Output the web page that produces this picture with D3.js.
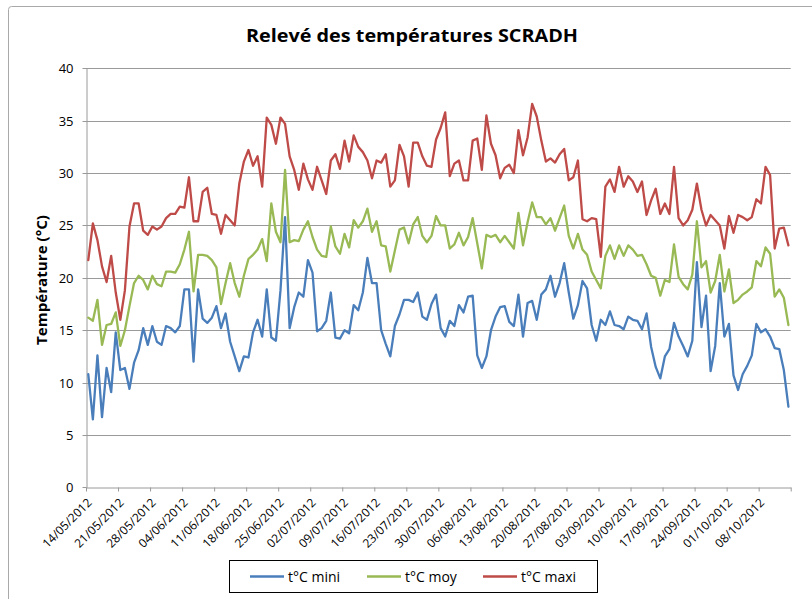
<!DOCTYPE html>
<html>
<head>
<meta charset="utf-8">
<script src="https://cdn.jsdelivr.net/npm/d3@7"></script>
<style>
  html, body { margin: 0; padding: 0; background: #fff; }
  svg { display: block; }
  text { font-family: "Open Sans", "Liberation Sans", sans-serif; fill: #000; }
</style>
</head>
<body>
<div id="chart"></div>
<script>
// ---- data ----
const firstDay = "2012-05-14";
const lastDay = "2012-10-14";
const seriesNames = ["t°C mini", "t°C moy", "t°C maxi"];
const seriesColors = ["#4a7ebb", "#98b954", "#be4b48"];
const tmin = [10.8,6.5,12.6,6.7,11.4,9.1,14.8,11.2,11.4,9.4,11.9,13.1,15.2,13.6,15.4,13.9,13.6,15.4,15.2,14.8,
  15.4,18.9,18.9,12.0,18.9,16.1,15.7,16.2,17.3,15.2,16.6,13.9,12.5,11.1,12.5,12.4,14.8,16.0,14.4,18.9,
  14.3,14.0,18.8,25.8,15.2,17.2,18.6,18.2,21.7,20.5,14.9,15.2,15.9,18.6,14.3,14.2,15.0,14.7,17.4,16.9,
  18.6,21.9,19.5,19.5,15.0,13.7,12.5,15.4,16.5,17.9,17.9,17.7,18.6,16.3,16.0,17.5,18.4,15.2,14.4,15.9,
  15.4,17.4,16.7,18.2,18.3,12.6,11.4,12.5,15.0,16.3,17.2,17.3,15.8,15.4,18.4,14.4,17.6,17.8,16.0,18.4,
  18.9,20.2,18.2,19.5,21.4,18.6,16.1,17.4,19.7,19.0,15.5,14.0,16.0,15.5,16.8,15.5,15.4,15.1,16.3,16.0,
  15.9,15.1,16.6,13.4,11.5,10.4,12.5,13.2,15.7,14.4,13.5,12.5,14.0,21.5,15.3,18.3,11.1,13.5,19.5,14.4,
  15.6,10.7,9.3,10.8,11.6,12.6,15.6,14.8,15.1,14.4,13.3,13.2,11.2,7.7];
const tmoy = [16.2,15.9,17.9,13.6,15.5,15.6,16.7,13.5,15.0,17.3,19.5,20.2,19.8,18.9,20.2,19.4,19.2,20.6,20.6,20.5,
  21.3,22.7,24.4,18.7,22.2,22.2,22.1,21.7,21.0,17.5,19.5,21.4,19.5,18.2,20.2,21.8,22.2,22.7,23.7,21.6,
  27.1,24.4,23.4,30.3,23.4,23.6,23.5,24.6,25.4,23.9,22.7,22.1,22.0,24.9,23.0,22.3,24.2,22.9,25.5,24.8,
  25.4,26.6,24.4,25.4,23.1,23.0,20.6,22.6,24.6,24.8,23.3,25.1,25.8,24.0,23.4,24.0,25.9,25.0,25.0,22.8,
  23.2,24.3,23.1,23.9,25.7,23.3,20.9,24.1,23.9,24.1,23.4,24.0,23.4,22.8,26.2,23.1,25.3,27.2,25.8,25.8,
  25.1,25.7,24.5,25.7,26.9,24.0,22.8,24.2,22.7,22.2,20.6,19.8,19.0,22.1,23.1,21.8,23.1,22.1,23.1,22.7,
  22.1,22.2,21.3,20.2,20.0,18.3,19.8,19.6,23.2,20.1,19.4,18.9,20.3,25.4,21.0,21.6,18.6,19.7,22.2,18.7,
  20.8,17.6,17.9,18.4,18.7,19.1,21.6,21.1,22.9,22.3,18.2,18.9,18.1,15.5];
const tmax = [21.7,25.2,23.6,21.1,19.6,22.1,18.6,16.0,18.8,24.9,27.1,27.1,24.5,24.1,24.9,24.6,24.9,25.7,26.1,26.1,
  26.8,26.7,29.6,25.4,25.4,28.2,28.6,26.1,26.0,24.2,26.0,25.5,25.0,29.0,31.1,32.2,30.7,31.6,28.7,35.3,
  34.6,32.8,35.3,34.7,31.6,30.3,28.4,30.9,29.4,28.4,30.6,29.3,28.0,31.2,31.8,30.4,33.1,31.1,33.6,32.5,
  32.0,31.2,29.5,31.2,31.0,31.8,28.7,29.3,32.7,31.6,28.7,32.9,32.9,31.6,30.7,30.6,33.2,34.3,35.8,29.7,
  30.9,31.2,29.3,29.3,33.1,33.3,30.3,35.5,32.8,31.7,29.5,30.5,30.8,30.0,34.1,31.7,33.4,36.6,35.4,33.1,
  31.1,31.4,31.0,31.8,32.3,29.3,29.6,31.2,25.6,25.4,25.7,25.6,22.0,28.7,29.4,28.2,30.6,28.7,29.7,29.2,
  28.2,29.2,26.0,27.4,28.5,26.1,27.1,26.1,30.6,25.7,25.0,25.5,26.5,29.0,26.5,25.0,26.0,25.5,25.0,22.8,
  25.9,24.3,26.0,25.8,25.5,25.8,27.5,27.1,30.6,29.8,22.8,24.7,24.8,23.1];
const xTickLabels = ["14/05/2012","21/05/2012","28/05/2012","04/06/2012","11/06/2012","18/06/2012",
  "25/06/2012","02/07/2012","09/07/2012","16/07/2012","23/07/2012","30/07/2012","06/08/2012",
  "13/08/2012","20/08/2012","27/08/2012","03/09/2012","10/09/2012","17/09/2012","24/09/2012",
  "01/10/2012","08/10/2012"];
const yTicks = [0,5,10,15,20,25,30,35,40];
const titleText = "Relevé des températures SCRADH";
const yTitle = "Température (°C)";

// ---- layout ----
const W = 812, H = 599;
const M = {left: 86, right: 790.7, top: 68.3, bottom: 487.4};

const svg = d3.select("#chart").append("svg").attr("width", W).attr("height", H);

// outer chart border
svg.append("path")
  .attr("d", `M8.5,${H} L8.5,9.5 Q8.5,6.5 11.5,6.5 L${W},6.5`)
  .attr("fill", "none").attr("stroke", "#a9a9a9").attr("stroke-width", 1);

const start = new Date(firstDay + "T00:00:00Z");
const endExcl = d3.utcDay.offset(new Date(lastDay + "T00:00:00Z"), 1);
const dates = d3.utcDay.range(start, endExcl);

const x = d3.scaleUtc().domain([start, endExcl]).range([M.left, M.right]);
const y = d3.scaleLinear().domain([0, 40]).range([M.bottom, M.top]);

// gridlines
svg.append("g").selectAll("line").data(yTicks.filter(v => v > 0)).join("line")
  .attr("x1", M.left).attr("x2", M.right)
  .attr("y1", d => Math.round(y(d)) + 0.5).attr("y2", d => Math.round(y(d)) + 0.5)
  .attr("stroke", "#9a9a9a").attr("stroke-width", 1);

// y axis
const yAxis = svg.append("g").attr("transform", `translate(${M.left + 0.5},0)`)
  .call(d3.axisLeft(y).tickValues(yTicks).tickSize(4).tickPadding(9).tickSizeOuter(0));
yAxis.selectAll("path, line").attr("stroke", "#9a9a9a");
yAxis.selectAll("text").attr("font-size", 13).style("font-family", '"Open Sans", sans-serif');
yAxis.selectAll(".tick").attr("transform", d => `translate(0,${Math.round(y(d)) + 0.5})`);

// x axis
const weekTicks = d3.utcMonday.range(start, d3.utcDay.offset(endExcl, 1));
const xAxis = svg.append("g").attr("transform", `translate(0,${Math.round(M.bottom) + 0.5})`)
  .call(d3.axisBottom(x).tickValues(weekTicks).tickSize(4).tickSizeOuter(0)
    .tickFormat((d, i) => xTickLabels[i] || ""));
xAxis.selectAll("path, line").attr("stroke", "#9a9a9a");
xAxis.selectAll("text")
  .attr("font-size", 12)
  .attr("text-anchor", "end")
  .attr("dy", null)
  .attr("y", 0)
  .attr("transform", "translate(6,16) rotate(-45)");

// series lines
const series = [tmin, tmoy, tmax];
const line = d3.line()
  .x((d, i) => x(d3.utcHour.offset(dates[i], 12)))
  .y(d => y(d))
  .curve(d3.curveLinear);
svg.append("g").selectAll("path").data(series).join("path")
  .attr("d", d => line(d))
  .attr("fill", "none")
  .attr("stroke", (d, i) => seriesColors[i])
  .attr("stroke-width", 2.3)
  .attr("stroke-linejoin", "round")
  .attr("stroke-linecap", "round");

// title
svg.append("text").attr("x", 412).attr("y", 42)
  .attr("text-anchor", "middle").attr("font-size", 18).attr("font-weight", "bold")
  .attr("textLength", 332).attr("lengthAdjust", "spacingAndGlyphs")
  .text(titleText);

// y title
svg.append("text").attr("transform", "translate(47,280) rotate(-90)")
  .attr("text-anchor", "middle").attr("font-size", 14).attr("font-weight", "bold")
  .attr("textLength", 130).attr("lengthAdjust", "spacingAndGlyphs")
  .text(yTitle);

// legend
const lg = svg.append("g");
lg.append("rect").attr("x", 229.5).attr("y", 560.5).attr("width", 368).attr("height", 32)
  .attr("fill", "#fff").attr("stroke", "#000").attr("stroke-width", 1);
const legendX = [250, 367, 483];
seriesNames.forEach((name, i) => {
  lg.append("line").attr("x1", legendX[i]).attr("x2", legendX[i] + 34)
    .attr("y1", 576.5).attr("y2", 576.5)
    .attr("stroke", seriesColors[i]).attr("stroke-width", 2.3);
  lg.append("text").attr("x", legendX[i] + 38).attr("y", 581.5)
    .attr("font-size", 14).text(name);
});
</script>
</body>
</html>
